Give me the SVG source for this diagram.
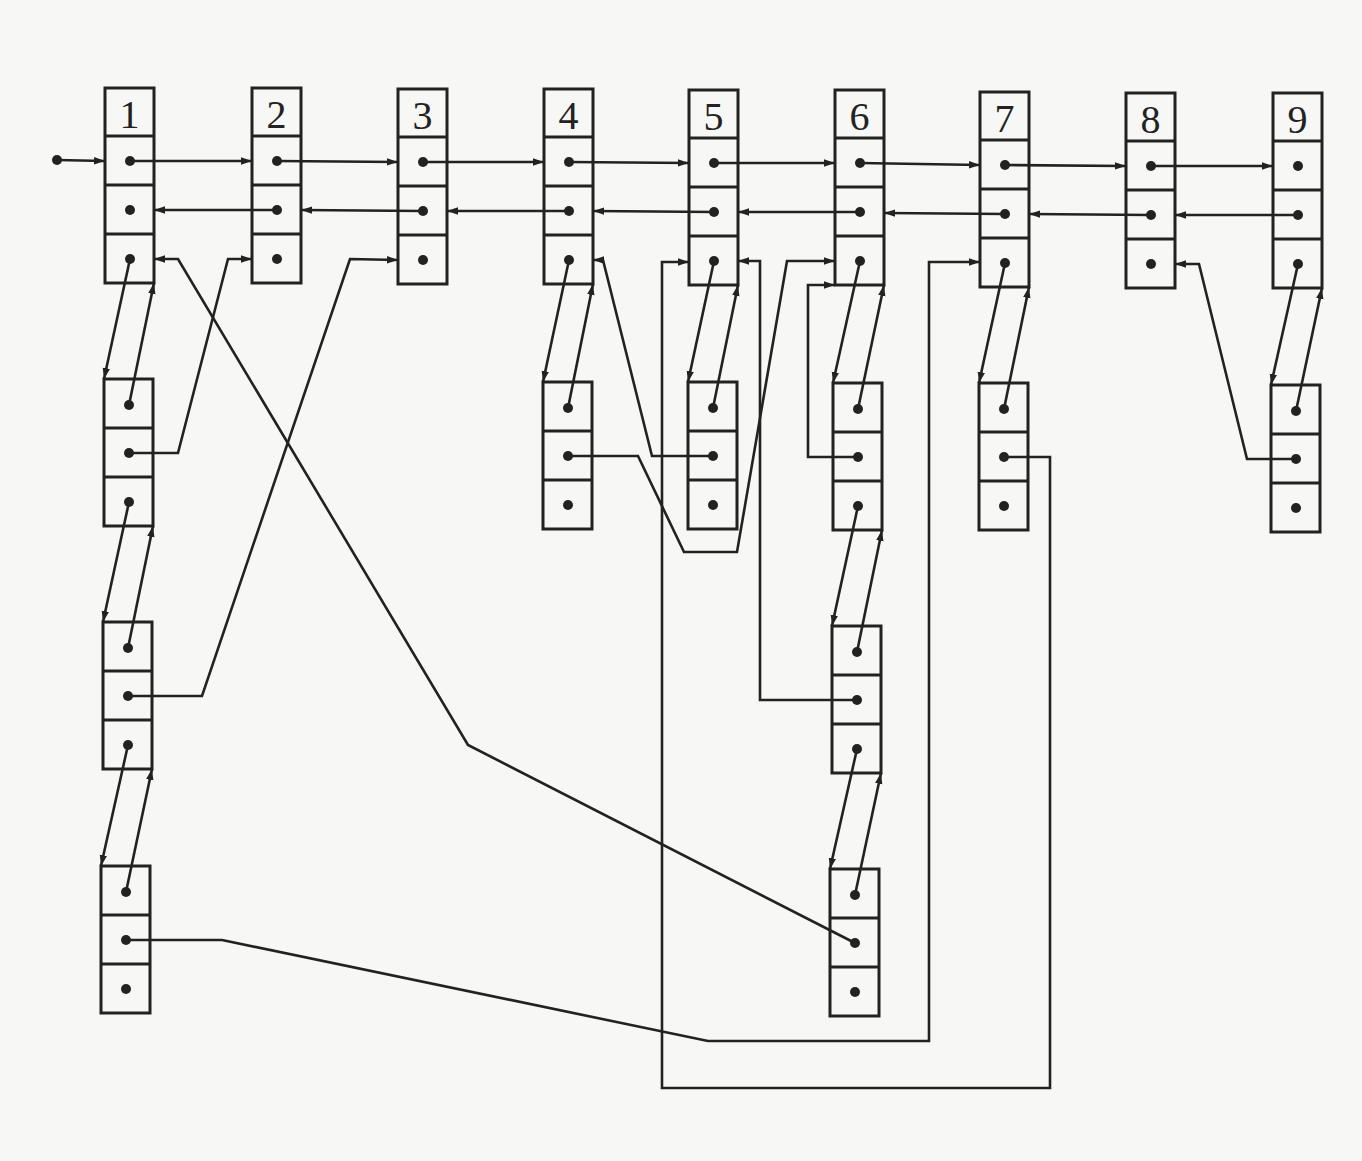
<svg xmlns="http://www.w3.org/2000/svg" xmlns:xlink="http://www.w3.org/1999/xlink" width="1362" height="1161" viewBox="0 0 1362 1161">
<style>
.box{fill:none;stroke:#222;stroke-width:3}
.div{stroke:#222;stroke-width:2.8}
.dot{fill:#222}
.lbl{font-family:"Liberation Serif","DejaVu Serif",serif;font-size:40px;fill:#222;text-anchor:middle}
.c{fill:none;stroke:#222;stroke-width:2.6;stroke-linejoin:miter}
.a{marker-end:url(#ah)}
</style>
<defs>
<marker id="ah" markerUnits="userSpaceOnUse" markerWidth="12" markerHeight="9" refX="11" refY="4.5" orient="auto">
<path d="M0,0.8 L11,4.5 L0,8.2 z" fill="#222"/>
</marker>
<g id="top">
<rect class="box" x="0" y="0" width="49" height="195"/>
<line class="div" x1="0" y1="48" x2="49" y2="48"/>
<line class="div" x1="0" y1="97" x2="49" y2="97"/>
<line class="div" x1="0" y1="146" x2="49" y2="146"/>
<circle class="dot" cx="25" cy="73" r="5"/>
<circle class="dot" cx="25" cy="122" r="5"/>
<circle class="dot" cx="25" cy="171" r="5"/>
</g>
<g id="low">
<rect class="box" x="0" y="0" width="49" height="147"/>
<line class="div" x1="0" y1="49" x2="49" y2="49"/>
<line class="div" x1="0" y1="98" x2="49" y2="98"/>
<circle class="dot" cx="25" cy="26" r="5"/>
<circle class="dot" cx="25" cy="74" r="5"/>
<circle class="dot" cx="25" cy="123" r="5"/>
</g>
</defs>
<rect x="0" y="0" width="1362" height="1161" fill="#f7f7f5"/>

<g id="n1" transform="translate(105,88)"><use xlink:href="#top"/><text class="lbl" x="24.5" y="40">1</text></g>
<g id="n2" transform="translate(252,88)"><use xlink:href="#top"/><text class="lbl" x="24.5" y="40">2</text></g>
<g id="n3" transform="translate(398,89)"><use xlink:href="#top"/><text class="lbl" x="24.5" y="40">3</text></g>
<g id="n4" transform="translate(544,89)"><use xlink:href="#top"/><text class="lbl" x="24.5" y="40">4</text></g>
<g id="n5" transform="translate(689,90)"><use xlink:href="#top"/><text class="lbl" x="24.5" y="40">5</text></g>
<g id="n6" transform="translate(835,90)"><use xlink:href="#top"/><text class="lbl" x="24.5" y="40">6</text></g>
<g id="n7" transform="translate(980,92)"><use xlink:href="#top"/><text class="lbl" x="24.5" y="40">7</text></g>
<g id="n8" transform="translate(1126,93)"><use xlink:href="#top"/><text class="lbl" x="24.5" y="40">8</text></g>
<g id="n9" transform="translate(1273,93)"><use xlink:href="#top"/><text class="lbl" x="24.5" y="40">9</text></g>

<g id="a1" transform="translate(104,379)"><use xlink:href="#low"/></g>
<g id="a2" transform="translate(103,622)"><use xlink:href="#low"/></g>
<g id="a3" transform="translate(101,866)"><use xlink:href="#low"/></g>
<g id="d4" transform="translate(543,382)"><use xlink:href="#low"/></g>
<g id="d5" transform="translate(688,382)"><use xlink:href="#low"/></g>
<g id="f1" transform="translate(833,383)"><use xlink:href="#low"/></g>
<g id="f2" transform="translate(832,626)"><use xlink:href="#low"/></g>
<g id="f3" transform="translate(830,869)"><use xlink:href="#low"/></g>
<g id="g7" transform="translate(979,383)"><use xlink:href="#low"/></g>
<g id="h9" transform="translate(1271,385)"><use xlink:href="#low"/></g>

<g id="connectors">
<circle class="dot" cx="57" cy="160" r="5"/>
<line class="c a" x1="57" y1="160" x2="105" y2="161"/>
<line class="c a" x1="130" y1="161" x2="252" y2="161"/>
<line class="c a" x1="277" y1="161" x2="398" y2="162"/>
<line class="c a" x1="423" y1="162" x2="544" y2="162"/>
<line class="c a" x1="569" y1="162" x2="689" y2="163"/>
<line class="c a" x1="714" y1="163" x2="835" y2="163"/>
<line class="c a" x1="860" y1="163" x2="980" y2="165"/>
<line class="c a" x1="1005" y1="165" x2="1126" y2="166"/>
<line class="c a" x1="1151" y1="166" x2="1273" y2="166"/>

<line class="c a" x1="277" y1="210" x2="154" y2="210"/>
<line class="c a" x1="423" y1="211" x2="301" y2="210"/>
<line class="c a" x1="569" y1="211" x2="447" y2="211"/>
<line class="c a" x1="714" y1="212" x2="593" y2="211"/>
<line class="c a" x1="860" y1="212" x2="738" y2="212"/>
<line class="c a" x1="1005" y1="214" x2="884" y2="213"/>
<line class="c a" x1="1151" y1="215" x2="1029" y2="214"/>
<line class="c a" x1="1298" y1="215" x2="1175" y2="215"/>

<line class="c a" x1="130" y1="259" x2="104" y2="379"/>
<line class="c a" x1="129" y1="405" x2="154" y2="283"/>
<line class="c a" x1="129" y1="502" x2="103" y2="622"/>
<line class="c a" x1="128" y1="648" x2="153" y2="526"/>
<line class="c a" x1="128" y1="745" x2="101" y2="866"/>
<line class="c a" x1="126" y1="892" x2="152" y2="769"/>
<line class="c a" x1="569" y1="260" x2="543" y2="382"/>
<line class="c a" x1="568" y1="408" x2="593" y2="284"/>
<line class="c a" x1="714" y1="261" x2="688" y2="382"/>
<line class="c a" x1="713" y1="408" x2="738" y2="285"/>
<line class="c a" x1="860" y1="261" x2="833" y2="383"/>
<line class="c a" x1="858" y1="409" x2="884" y2="285"/>
<line class="c a" x1="858" y1="506" x2="832" y2="626"/>
<line class="c a" x1="857" y1="652" x2="882" y2="530"/>
<line class="c a" x1="857" y1="749" x2="830" y2="869"/>
<line class="c a" x1="855" y1="895" x2="881" y2="773"/>
<line class="c a" x1="1005" y1="263" x2="979" y2="383"/>
<line class="c a" x1="1004" y1="409" x2="1029" y2="287"/>
<line class="c a" x1="1298" y1="264" x2="1271" y2="385"/>
<line class="c a" x1="1296" y1="411" x2="1322" y2="288"/>

<polyline class="c a" points="129,453 178,453 228,259 252,259"/>
<polyline class="c a" points="128,696 202,696 350,259 398,260"/>
<polyline class="c a" points="126,940 222,940 708,1041 929,1041 929,262 980,262"/>
<polyline class="c a" points="568,456 638,456 684,552 737,552 787,261 835,261"/>
<polyline class="c a" points="713,456 652,456 603,260 593,260"/>
<polyline class="c a" points="858,457 808,457 808,285 835,285"/>
<polyline class="c a" points="857,700 760,700 760,261 738,261"/>
<polyline class="c a" points="855,943 468,745 178,259 154,259"/>
<polyline class="c a" points="1004,457 1050,457 1050,1088 662,1088 662,262 689,262"/>
<polyline class="c a" points="1296,459 1247,459 1199,264 1175,264"/>
</g>
</svg>
